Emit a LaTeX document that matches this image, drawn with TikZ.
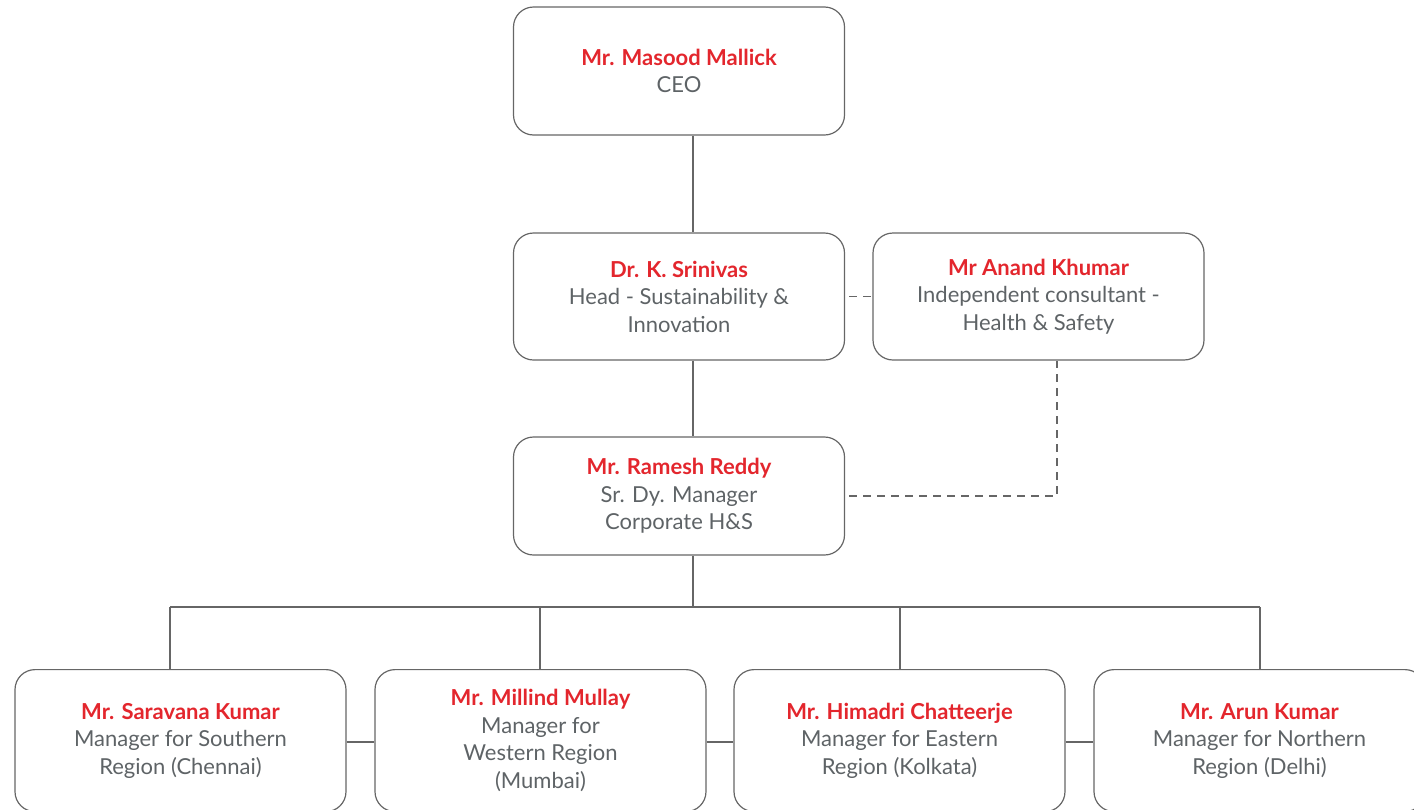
\documentclass[tikz,border=0pt]{standalone}
\usepackage{fontspec}
\setmainfont{Lato}
\definecolor{namered}{HTML}{E3262D}
\definecolor{rolegray}{HTML}{5E6366}
\definecolor{linegray}{HTML}{666666}
\newcommand{\pname}[1]{{\color{namered}\bfseries #1}}
\begin{document}
\begin{tikzpicture}[x=0.5pt,y=-0.5pt,
  card/.style={draw=linegray,line width=0.6pt,rounded corners=10pt,minimum width=165.5pt,
    align=center,text=rolegray,font=\fontsize{11}{13.75}\selectfont,inner sep=0pt},
  link/.style={draw=linegray,line width=0.6pt},
  dotlink/.style={link,dash pattern=on 4pt off 3pt}]
\clip (0,0) rectangle (1414,809);

\node[card,minimum height=64pt] (ceo) at (679,71) {\pname{Mr. Masood Mallick}\\CEO};
\node[card,minimum height=63.5pt] (srin) at (679,296.5) {\pname{Dr. K. Srinivas}\\Head - Sustainability \&\\Innovation};
\node[card,minimum height=63.5pt] (anand) at (1038.5,296.5) {\pname{Mr Anand Khumar}\\Independent consultant -\\Health \& Safety};
\node[card,minimum height=59pt] (ramesh) at (679,496) {\pname{Mr. Ramesh Reddy}\\Sr. Dy. Manager\\Corporate H\&S};

\node[card,minimum height=71pt,anchor=north] (south) at (180.5,669) {\pname{Mr. Saravana Kumar}\\Manager for Southern\\Region (Chennai)};
\node[card,minimum height=71pt,anchor=north] (west) at (540.5,669) {\pname{Mr. Millind Mullay}\\Manager for\\Western Region\\(Mumbai)};
\node[card,minimum height=71pt,anchor=north] (east) at (899.5,669) {\pname{Mr. Himadri Chatteerje}\\Manager for Eastern\\Region (Kolkata)};
\node[card,minimum height=71pt,anchor=north] (north) at (1259.5,669) {\pname{Mr. Arun Kumar}\\Manager for Northern\\Region (Delhi)};

% spine and bus
\coordinate (spine) at (693,0);
\coordinate (tap) at (1057,0);
\coordinate (row) at (0,742);
\coordinate (busS) at (170,607);
\coordinate (busW) at (540,607);
\coordinate (busE) at (900,607);
\coordinate (busN) at (1260,607);

\draw[link] (ceo.south -| spine) -- (srin.north -| spine);
\draw[link] (srin.south -| spine) -- (ramesh.north -| spine);
\draw[link] (ramesh.south -| spine) -- (busW -| spine);
\draw[link] (busS) -- (busN);
\foreach \d/\b in {busS/south,busW/west,busE/east,busN/north}
  \draw[link] (\d) -- (\d |- \b.north);

\draw[link] (south.east |- row) -- (west.west |- row);
\draw[link] (west.east |- row) -- (east.west |- row);
\draw[link] (east.east |- row) -- (north.west |- row);

% dotted reporting lines
\draw[dotlink] ([xshift=2pt]srin.east) -- (anand.west);
\draw[dotlink] ([xshift=2pt]ramesh.east) -| (anand.south -| tap);
\end{tikzpicture}
\end{document}
